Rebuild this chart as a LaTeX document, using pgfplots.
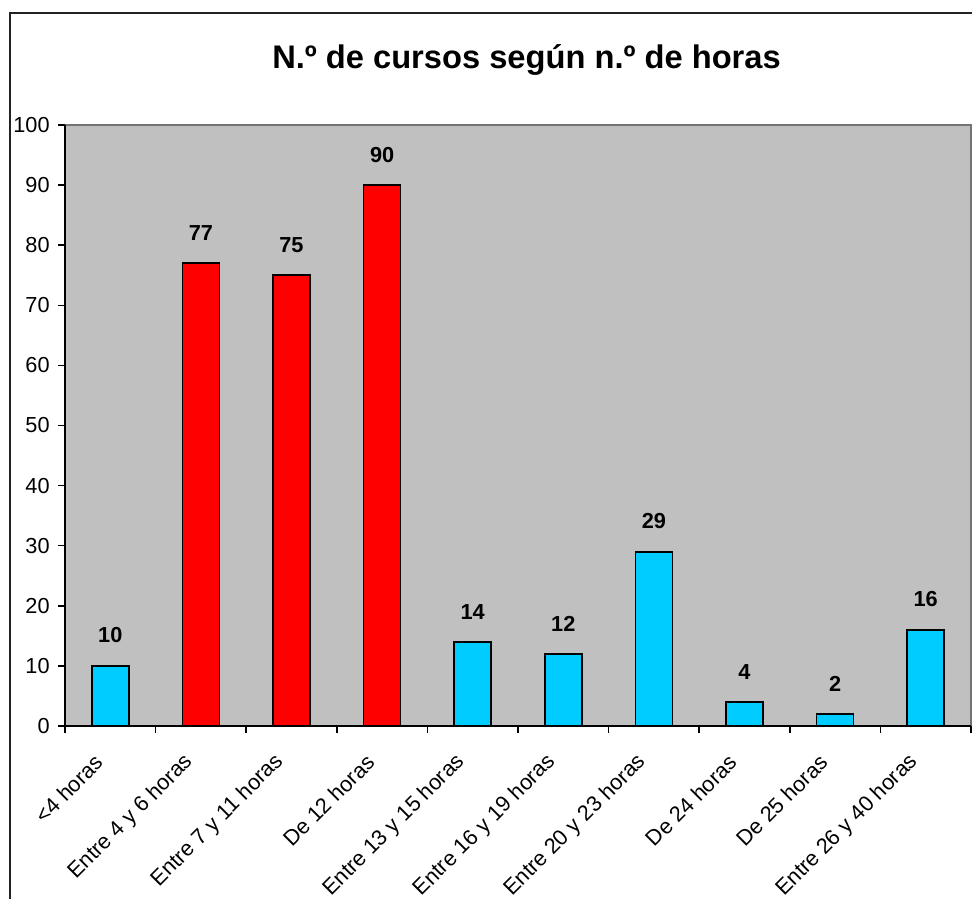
\documentclass[border=0pt]{standalone}
\usepackage{pgfplots}
\pgfplotsset{compat=1.18}
\usepackage{fontspec}
\setmainfont{Liberation Sans}
\definecolor{plotgray}{HTML}{C0C0C0}
\definecolor{barcyan}{HTML}{00CCFF}
\definecolor{barred}{HTML}{FF0000}
\definecolor{framec}{HTML}{222222}
\begin{document}
\begin{tikzpicture}
\path[use as bounding box] (0,0) rectangle (729pt,674.25pt);
\clip (0,0) rectangle (729pt,674.25pt);
\draw[framec, line width=1.5pt] (7.5pt,-20pt) rectangle (760pt,664.5pt);
\node[anchor=base, font=\fontsize{24.5}{28}\selectfont\bfseries] at (394.9pt,622.5pt) {N.º de cursos según n.º de horas};
\begin{axis}[
  at={(48.75pt,129.75pt)}, anchor=south west,
  width=679.5pt, height=450.75pt, scale only axis,
  xmin=-0.5, xmax=9.5, ymin=0, ymax=100,
  ytick={0,10,...,100},
  xtick={0,...,9},
  xticklabels={<4 horas, Entre 4 y 6 horas, Entre 7 y 11 horas, De 12 horas, Entre 13 y 15 horas, Entre 16 y 19 horas, Entre 20 y 23 horas, De 24 horas, De 25 horas, Entre 26 y 40 horas},
  minor xtick={-0.5,0.5,...,9.5},
  major x tick style={draw=none},
  minor tick length=5pt,
  major tick length=5pt,
  tick align=outside,
  axis x line*=bottom, axis y line*=left,
  axis line style={black, line width=1.3pt},
  every tick/.style={black, line width=1.1pt},
  axis background/.style={fill=plotgray, draw=gray!90!black, line width=1.2pt},
  /pgf/number format/assume math mode=true,
  tick label style={font=\fontsize{16.3}{19}\selectfont},
  yticklabel style={xshift=-3pt},
  xticklabel style={xshift=-6pt, yshift=-17pt, rotate=45, anchor=east},
  ybar, bar width=0.41, bar shift=0pt,
  nodes near coords,
  every node near coord/.append style={anchor=south, inner sep=0pt, yshift=16.5pt, font=\fontsize{16.3}{19}\selectfont\bfseries, black},
  clip=false,
]
\addplot[fill=barcyan, draw=black, line width=1.2pt] coordinates {(0,10) (4,14) (5,12) (6,29) (7,4) (8,2) (9,16)};
\addplot[fill=barred, draw=black, line width=1.2pt] coordinates {(1,77) (2,75) (3,90)};
\end{axis}
\end{tikzpicture}
\end{document}
